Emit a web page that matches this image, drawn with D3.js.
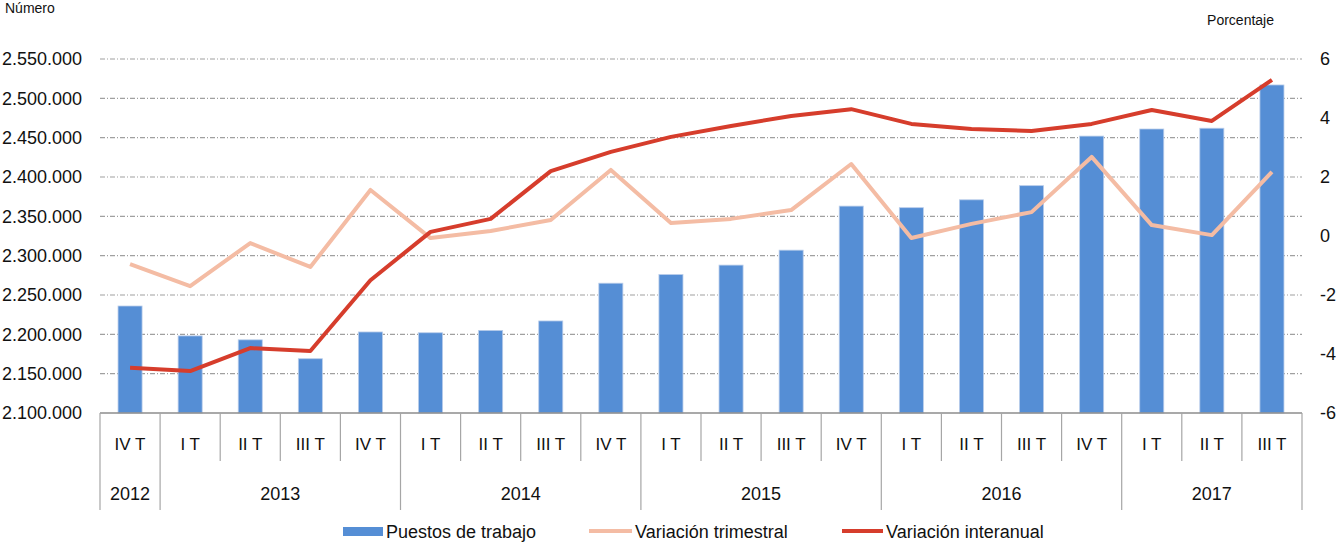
<!DOCTYPE html>
<html><head><meta charset="utf-8">
<script src="https://cdn.jsdelivr.net/npm/d3@7"></script>
<style>body{margin:0;background:#fff}svg{display:block}</style>
</head><body><svg id="c" width="1336" height="552"></svg>
<script>
const quarters = ["IV T","I T","II T","III T","IV T","I T","II T","III T","IV T","I T","II T","III T","IV T","I T","II T","III T","IV T","I T","II T","III T"];
const years = [{label:"2012",start:0,end:1},{label:"2013",start:1,end:5},{label:"2014",start:5,end:9},{label:"2015",start:9,end:13},{label:"2016",start:13,end:17},{label:"2017",start:17,end:20}];
const puestos = [2236000,2198000,2193000,2169000,2203000,2202000,2205000,2217000,2265000,2276000,2288000,2307000,2363000,2361000,2371000,2389000,2452000,2461000,2462000,2517000];
const varTrimestral = [-0.95,-1.7,-0.24,-1.05,1.56,-0.07,0.17,0.54,2.24,0.44,0.58,0.88,2.44,-0.07,0.41,0.81,2.68,0.37,0.03,2.17];
const varInteranual = [-4.47,-4.58,-3.8,-3.9,-1.5,0.14,0.58,2.2,2.85,3.36,3.73,4.07,4.3,3.8,3.63,3.56,3.8,4.27,3.9,5.29];
const leftTicks = [2100000,2150000,2200000,2250000,2300000,2350000,2400000,2450000,2500000,2550000];
const rightTicks = [-6,-4,-2,0,2,4,6];

const svg = d3.select("#c");
const L=100,R=1302,T=59,B=413;
const font="'Liberation Sans', Arial, sans-serif";
const x = d3.scaleBand().domain(d3.range(quarters.length)).range([L,R]).paddingInner(0.6).paddingOuter(0.3);
const yL = d3.scaleLinear().domain([2100000,2550000]).range([B,T]);
const yR = d3.scaleLinear().domain([-6,6]).range([B,T]);
const fmt = v => d3.format(",")(v).replace(/,/g,".");

// gridlines
svg.append("g").selectAll("line").data(leftTicks.slice(1)).join("line")
  .attr("x1",L).attr("x2",R).attr("y1",d=>yL(d)).attr("y2",d=>yL(d))
  .attr("stroke","#a0a0a0").attr("stroke-width",1.2).attr("stroke-dasharray","5,2,1,2");

// left axis
const gl = svg.append("g").attr("transform",`translate(${L},0)`)
  .call(d3.axisLeft(yL).tickValues(leftTicks).tickFormat(fmt).tickSize(0).tickPadding(18));
gl.select(".domain").remove();
gl.selectAll("text").attr("font-family",font).attr("font-size",18).attr("fill","#111");

// right axis
const gr = svg.append("g").attr("transform",`translate(${R},0)`)
  .call(d3.axisRight(yR).tickValues(rightTicks).tickFormat(d=>d).tickSize(0).tickPadding(18));
gr.select(".domain").remove();
gr.selectAll("text").attr("font-family",font).attr("font-size",18).attr("fill","#111");

// bars
svg.append("g").selectAll("rect").data(puestos).join("rect")
  .attr("x",(d,i)=>x(i)).attr("width",x.bandwidth())
  .attr("y",d=>yL(d)).attr("height",d=>B-yL(d))
  .attr("fill","#558ed5").attr("stroke","#b9cdea").attr("stroke-width",0.8);

// lines
const cx = i => x(i)+x.bandwidth()/2;
const line = d3.line().x((d,i)=>cx(i)).y(d=>yR(d));
svg.append("path").datum(varTrimestral).attr("d",line).attr("fill","none")
  .attr("stroke","#f4bca4").attr("stroke-width",4).attr("stroke-linejoin","round");
svg.append("path").datum(varInteranual).attr("d",line).attr("fill","none")
  .attr("stroke","#d63d2c").attr("stroke-width",4).attr("stroke-linejoin","round");

// x axis
const step = x.step();
const bound = i => L + i*step;
const ax = svg.append("g");
ax.append("line").attr("x1",L).attr("x2",R).attr("y1",B).attr("y2",B).attr("stroke","#8c8c8c").attr("stroke-width",1.5);
const yearBounds = new Set(years.flatMap(y=>[y.start,y.end]));
ax.selectAll("line.sep").data(d3.range(quarters.length+1)).join("line").attr("class","sep")
  .attr("x1",d=>bound(d)).attr("x2",d=>bound(d)).attr("y1",B)
  .attr("y2",d=>yearBounds.has(d)?510:461)
  .attr("stroke","#a6a6a6").attr("stroke-width",1.2);
ax.selectAll("text.q").data(quarters).join("text").attr("class","q")
  .attr("x",(d,i)=>cx(i)).attr("y",450).attr("text-anchor","middle")
  .attr("font-family",font).attr("font-size",17).attr("fill","#111").text(d=>d);
ax.selectAll("text.y").data(years).join("text").attr("class","y")
  .attr("x",d=>(bound(d.start)+bound(d.end))/2).attr("y",500).attr("text-anchor","middle")
  .attr("font-family",font).attr("font-size",18).attr("fill","#111").text(d=>d.label);

// axis titles
svg.append("text").attr("x",5).attr("y",13).attr("font-family",font).attr("font-size",14).attr("fill","#111").text("Número");
svg.append("text").attr("x",1274).attr("y",25).attr("text-anchor","end").attr("font-family",font).attr("font-size",14).attr("fill","#111").text("Porcentaje");

// legend
const lg = svg.append("g").attr("font-family",font).attr("font-size",18).attr("fill","#111");
lg.append("rect").attr("x",343).attr("y",527).attr("width",40).attr("height",9).attr("fill","#558ed5");
lg.append("text").attr("x",386).attr("y",538).text("Puestos de trabajo");
lg.append("line").attr("x1",589).attr("x2",632).attr("y1",531).attr("y2",531).attr("stroke","#f4bca4").attr("stroke-width",4);
lg.append("text").attr("x",635).attr("y",538).text("Variación trimestral");
lg.append("line").attr("x1",842).attr("x2",883).attr("y1",531).attr("y2",531).attr("stroke","#d63d2c").attr("stroke-width",4);
lg.append("text").attr("x",886).attr("y",538).text("Variación interanual");
</script></body></html>
